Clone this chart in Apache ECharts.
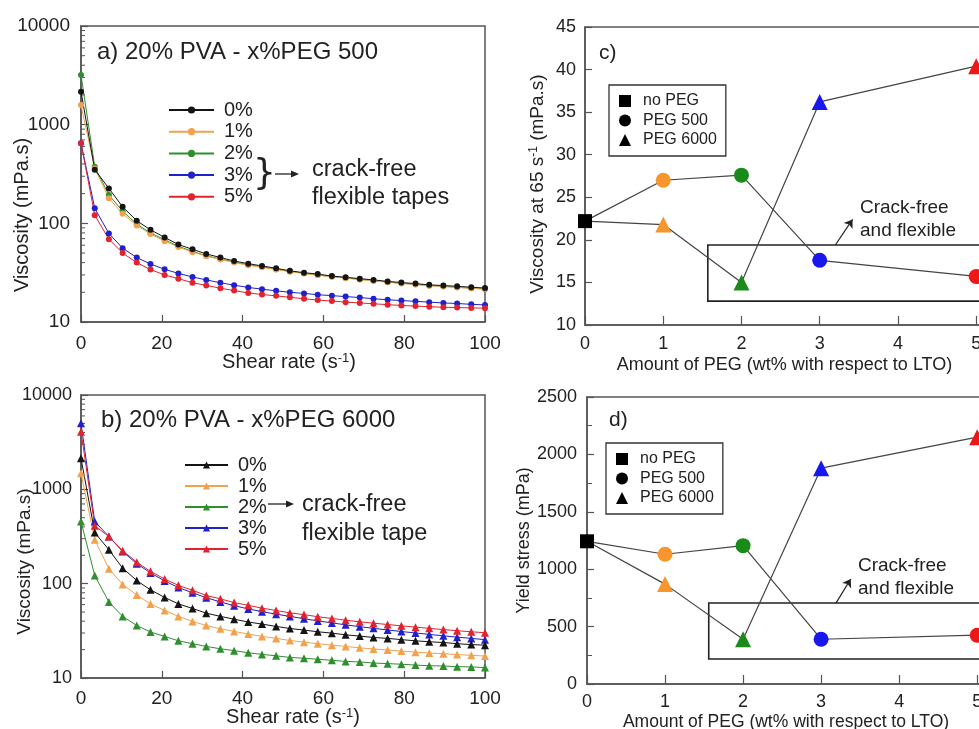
<!DOCTYPE html>
<html>
<head>
<meta charset="utf-8">
<script src="https://cdn.jsdelivr.net/npm/echarts@6/dist/echarts.min.js"></script>
<style>
  html, body { margin: 0; padding: 0; background: #fff; }
  #chart { width: 979px; height: 729px; }
</style>
</head>
<body>
<div id="chart"></div>
<script>
// ---- Flow curves: shear rate (1/s) and viscosity (mPa.s) ----
const shearRate = [0, 3.4, 6.9, 10.3, 13.8, 17.2, 20.7, 24.1, 27.6, 31, 34.5, 37.9, 41.4, 44.8, 48.3,
  51.7, 55.2, 58.6, 62.1, 65.5, 69, 72.4, 75.9, 79.3, 82.8, 86.2, 89.7, 93.1, 96.6, 100];
const pegLabels = ['0%', '1%', '2%', '3%', '5%'];

// a) 20% PVA with PEG 500
const peg500_0 = [2160, 350, 226, 147, 106, 86, 72, 61, 54.5, 49, 45, 41.5, 39, 37, 35, 33, 31.6, 30.6, 29.2, 28.4, 27.5, 26.7, 25.8, 25.1, 24.5, 23.8, 23.4, 23, 22.5, 22.1];
const peg500_1 = [1580, 360, 180, 125, 95, 78, 66, 57.5, 51, 46.5, 43, 40, 37.6, 35.8, 34, 32.4, 31, 29.8, 28.7, 27.8, 26.9, 26.1, 25.3, 24.6, 24, 23.3, 22.9, 22.4, 22, 21.6];
const peg500_2 = [3190, 375, 194, 133, 98, 80, 68, 58.5, 52, 47, 43.5, 40.5, 38, 36.2, 34.3, 32.6, 31.2, 30, 28.9, 28, 27.1, 26.3, 25.4, 24.7, 24.1, 23.4, 23, 22.5, 22, 21.6];
const peg500_3 = [647, 142, 79, 56, 45, 38.7, 34.2, 31.1, 28.6, 26.7, 25, 23.6, 22.4, 21.5, 20.7, 20, 19.5, 18.9, 18.5, 18.1, 17.7, 17.2, 16.8, 16.5, 16.2, 15.9, 15.6, 15.4, 15.1, 14.9];
const peg500_5 = [650, 121, 69, 50, 40, 34, 30, 27.5, 25, 23.5, 22, 20.8, 19.7, 19, 18.4, 17.8, 17.2, 16.7, 16.3, 15.9, 15.6, 15.3, 15, 14.7, 14.5, 14.3, 14.1, 14, 13.9, 13.8];

// b) 20% PVA with PEG 6000
const peg6000_0 = [2130, 348, 229, 146, 108, 86, 71.5, 61, 54.6, 48.7, 45, 42, 39.2, 37.3, 35.2, 33.5, 32.2, 30.9, 29.9, 28.7, 27.8, 26.9, 26.3, 25.5, 24.8, 24.2, 23.8, 23.1, 22.6, 22.3];
const peg6000_1 = [1480, 292, 144, 98, 76, 61, 52, 45, 39.8, 36, 33.2, 31.2, 29.2, 27.6, 26.3, 25, 24, 23.1, 22.3, 21.6, 20.9, 20.3, 19.8, 19.3, 18.8, 18.4, 18.1, 17.7, 17.4, 17.1];
const peg6000_2 = [456, 122, 64, 45, 36, 30.7, 27.6, 24.8, 23.1, 21.6, 20.4, 19.5, 18.5, 17.8, 17.2, 16.5, 16.2, 15.8, 15.4, 15, 14.8, 14.4, 14.2, 14, 13.7, 13.5, 13.4, 13.2, 13.1, 12.9];
const peg6000_3 = [5010, 456, 316, 219, 163, 130, 107, 91, 80, 71, 64, 58.5, 54, 50.5, 47.5, 45, 42.5, 40.3, 38.4, 36.6, 35, 33.6, 32.3, 31.1, 30, 29, 28, 27.1, 26.3, 25.5];
const peg6000_5 = [4090, 410, 316, 224, 169, 135, 112, 96, 85, 75, 69, 63, 59, 55, 52, 49, 47, 44.6, 42.8, 41, 39.4, 38.1, 36.9, 35.7, 34.6, 33.6, 32.6, 31.7, 30.9, 30.2];

// ---- Summary vs. PEG amount (wt% with respect to LTO) ----
const pegAmount = [1, 2, 3, 5];
const viscNoPeg = 22.2;
const visc500 = [27, 27.6, 17.6, 15.7];
const visc6000 = [21.8, 15, 36.2, 40.4];
const yieldNoPeg = 1243;
const yield500 = [1130, 1205, 390, 425];
const yield6000 = [870, 390, 1880, 2150];

const logTicks = [10, 100, 1000, 10000];
const logMinorTicks = [20, 30, 40, 50, 60, 70, 80, 90, 200, 300, 400, 500, 600, 700, 800, 900,
  2000, 3000, 4000, 5000, 6000, 7000, 8000, 9000];

const curveColors = ['#141414', '#f2a24e', '#2f8f2f', '#2020cc', '#e2222e'];
const pointColors = ['#f7962e', '#1a8a1a', '#1717ee', '#ee1717'];
const FONT = 'Liberation Sans, Arial, sans-serif';
const INK = '#222';
const FRAME = '#555';

const flow500 = [peg500_0, peg500_1, peg500_2, peg500_3, peg500_5];
const flow6000 = [peg6000_0, peg6000_1, peg6000_2, peg6000_3, peg6000_5];

function flowSeries(prefix, sets, gi, symbol, size) {
  // draw black last so it sits on top of the green/orange curves
  const order = [2, 1, 3, 4, 0];
  return order.map(i => ({
    type: 'line',
    name: prefix + pegLabels[i],
    xAxisIndex: gi, yAxisIndex: gi,
    data: shearRate.map((x, j) => [x, sets[i][j]]),
    symbol: symbol, symbolSize: size, showAllSymbol: true,
    lineStyle: { width: 1, color: curveColors[i] },
    itemStyle: { color: curveColors[i] },
    emphasis: { disabled: true },
    animation: false
  }));
}

function minorTicks(gi) {
  return {
    type: 'custom', xAxisIndex: gi, yAxisIndex: gi, silent: true, animation: false,
    data: logMinorTicks.map(v => [0, v]),
    renderItem: (params, api) => {
      const p = api.coord([api.value(0), api.value(1)]);
      return { type: 'line', shape: { x1: p[0], y1: p[1], x2: p[0] + 4, y2: p[1] },
               style: { stroke: FRAME, lineWidth: 1 } };
    }
  };
}

function summarySeries(prefix, gi, noPeg, v500, v6000, box, arrow) {
  const line = { width: 1.2, color: '#444' };
  const pts = (vals) => [{ value: [0, noPeg], symbol: 'none' }].concat(
    vals.map((v, i) => ({ value: [pegAmount[i], v], itemStyle: { color: pointColors[i] } })));
  return [
    {
      type: 'line', name: prefix + 'PEG 500', xAxisIndex: gi, yAxisIndex: gi,
      data: pts(v500), symbol: 'circle', symbolSize: 15, lineStyle: line,
      itemStyle: { color: '#000' }, emphasis: { disabled: true }, animation: false, z: 3,
      markArea: {
        silent: true,
        itemStyle: { color: 'rgba(0,0,0,0)', borderColor: '#222', borderWidth: 1.6 },
        label: { show: false },
        data: [[{ coord: [box[0], box[1]] }, { coord: [box[2], box[3]] }]]
      },
      markLine: {
        silent: true, symbol: ['none', 'arrow'], symbolSize: 8,
        lineStyle: { color: '#222', width: 1.2, type: 'solid' },
        label: { show: false },
        data: [[{ coord: [arrow[0], arrow[1]] }, { coord: [arrow[2], arrow[3]] }]]
      }
    },
    {
      type: 'line', name: prefix + 'PEG 6000', xAxisIndex: gi, yAxisIndex: gi,
      data: pts(v6000), symbol: 'triangle', symbolSize: 16, lineStyle: line,
      itemStyle: { color: '#000' }, emphasis: { disabled: true }, animation: false, z: 3
    },
    {
      type: 'line', name: prefix + 'no PEG', xAxisIndex: gi, yAxisIndex: gi,
      data: [[0, noPeg]], symbol: 'rect', symbolSize: 14,
      itemStyle: { color: '#000' }, emphasis: { disabled: true }, animation: false, z: 4
    }
  ];
}

const supRich = (size) => ({ sup: { fontSize: size, verticalAlign: 'top', lineHeight: size + 2 } });

function xAxisCfg(gi, opts) {
  return Object.assign({
    type: 'value', gridIndex: gi,
    axisLine: { show: true, lineStyle: { color: FRAME, width: 1.5 } },
    axisTick: { show: true, inside: true, length: 7, lineStyle: { color: FRAME, width: 1.2 } },
    splitLine: { show: false },
    axisLabel: { fontSize: 19, color: INK, fontFamily: FONT, margin: 12 },
    nameLocation: 'middle', nameMoveOverlap: false,
    nameTextStyle: { fontSize: 20, color: INK, fontFamily: FONT, rich: supRich(13) }
  }, opts);
}
function yAxisCfg(gi, opts) {
  return Object.assign({
    gridIndex: gi,
    axisLine: { show: true, lineStyle: { color: FRAME, width: 1.5 } },
    axisTick: { show: true, inside: true, length: 7, lineStyle: { color: FRAME, width: 1.2 } },
    splitLine: { show: false },
    axisLabel: { fontSize: 19, color: INK, fontFamily: FONT, margin: 10 },
    nameLocation: 'middle', nameMoveOverlap: false,
    nameTextStyle: { fontSize: 20, color: INK, fontFamily: FONT, rich: supRich(13) }
  }, opts);
}

const gridBase = { show: true, borderColor: FRAME, borderWidth: 1.5, backgroundColor: 'transparent',
  containLabel: false, outerBoundsMode: 'none' };

const flowLegend = (prefix, left, top, iw, gap) => ({
  orient: 'vertical', left: left, top: top, itemWidth: iw, itemHeight: 9, itemGap: gap,
  padding: 0, selectedMode: false,
  data: pegLabels.map(l => prefix + l),
  formatter: n => n.slice(prefix.length),
  textStyle: { fontSize: 20, lineHeight: 17, color: INK, fontFamily: FONT, padding: [0, 0, 0, 5] }
});
const boxLegend = (prefix, left, top) => ({
  orient: 'vertical', left: left, top: top, itemWidth: 12, itemHeight: 12, itemGap: 3.5,
  padding: [8, 9, 8, 10], borderColor: '#333', borderWidth: 1.3, selectedMode: false,
  data: [
    { name: prefix + 'no PEG', icon: 'rect', itemStyle: { color: '#000' } },
    { name: prefix + 'PEG 500', icon: 'circle', itemStyle: { color: '#000' } },
    { name: prefix + 'PEG 6000', icon: 'triangle', itemStyle: { color: '#000' } }
  ],
  formatter: n => n.slice(prefix.length),
  textStyle: { fontSize: 16, lineHeight: 16, color: INK, fontFamily: FONT, padding: [0, 0, 0, 7] }
});

const txt = (x, y, text, size, extra) => ({
  type: 'text', x: x, y: y, silent: true,
  style: Object.assign({ text: text, fontSize: size, fontFamily: FONT, fill: INK,
    verticalAlign: 'middle', align: 'left' }, extra || {})
});

const plainNumber = v => String(v);

const option = {
  animation: false,
  backgroundColor: '#fff',
  grid: [
    Object.assign({ left: 81, top: 26, width: 404, height: 296 }, gridBase),
    Object.assign({ left: 81, top: 395, width: 404, height: 283 }, gridBase),
    Object.assign({ left: 585, top: 27, width: 399, height: 298 }, gridBase),
    Object.assign({ left: 587, top: 397, width: 398, height: 287 }, gridBase)
  ],
  xAxis: [
    xAxisCfg(0, { min: 0, max: 100, interval: 20, name: 'Shear rate (s{sup|-1})', nameGap: 30,
      nameTextStyle: { fontSize: 20, color: INK, fontFamily: FONT, rich: supRich(13), padding: [0, 0, 0, 12] } }),
    xAxisCfg(1, { min: 0, max: 100, interval: 20, name: 'Shear rate (s{sup|-1})', nameGap: 29,
      axisLabel: { fontSize: 19, color: INK, fontFamily: FONT, margin: 11 },
      nameTextStyle: { fontSize: 20, color: INK, fontFamily: FONT, rich: supRich(13), padding: [0, 0, 0, 20] } }),
    xAxisCfg(2, { min: 0, max: 5.1, interval: 1, name: 'Amount of PEG (wt% with respect to LTO)', nameGap: 31,
      axisTick: { show: true, inside: true, length: 9, lineStyle: { color: FRAME, width: 1.2 } },
      axisLabel: { fontSize: 18, color: INK, fontFamily: FONT, margin: 10,
        formatter: v => (Number.isInteger(v) ? String(v) : '') },
      nameTextStyle: { fontSize: 18, color: INK, fontFamily: FONT } }),
    xAxisCfg(3, { min: 0, max: 5.1, interval: 1, name: 'Amount of PEG (wt% with respect to LTO)', nameGap: 29,
      axisTick: { show: true, inside: true, length: 9, lineStyle: { color: FRAME, width: 1.2 } },
      axisLabel: { fontSize: 18, color: INK, fontFamily: FONT, margin: 9,
        formatter: v => (Number.isInteger(v) ? String(v) : '') },
      nameTextStyle: { fontSize: 17.5, color: INK, fontFamily: FONT } })
  ],
  yAxis: [
    yAxisCfg(0, { type: 'log', logBase: 10, min: 10, max: 10000, splitNumber: 3,
      name: 'Viscosity (mPa.s)', nameGap: 49,
      axisLabel: { fontSize: 19, color: INK, fontFamily: FONT, margin: 11,
        formatter: v => (logTicks.indexOf(Math.round(v)) >= 0 ? String(Math.round(v)) : '') },
      nameTextStyle: { fontSize: 20, color: INK, fontFamily: FONT, padding: [0, 82, 0, 0] } }),
    yAxisCfg(1, { type: 'log', logBase: 10, min: 10, max: 10000, splitNumber: 3,
      name: 'Viscosity (mPa.s)', nameGap: 47,
      axisLabel: { fontSize: 18, color: INK, fontFamily: FONT, margin: 9,
        formatter: v => (logTicks.indexOf(Math.round(v)) >= 0 ? String(Math.round(v)) : '') },
      nameTextStyle: { fontSize: 19, color: INK, fontFamily: FONT, padding: [0, 50, 0, 0] } }),
    yAxisCfg(2, { type: 'value', min: 10, max: 45, interval: 5,
      name: 'Viscosity at 65 s{sup|-1} (mPa.s)', nameGap: 38,
      axisLabel: { fontSize: 18, color: INK, fontFamily: FONT, margin: 9, formatter: plainNumber },
      nameTextStyle: { fontSize: 19, color: INK, fontFamily: FONT, rich: supRich(12), padding: [0, 16, 0, 0] } }),
    yAxisCfg(3, { type: 'value', min: 0, max: 2500, interval: 500,
      name: 'Yield stress (mPa)', nameGap: 54,
      minorTick: { show: true, splitNumber: 2, length: 5, lineStyle: { color: FRAME, width: 1 } },
      axisLabel: { fontSize: 18, color: INK, fontFamily: FONT, margin: 10, formatter: plainNumber },
      nameTextStyle: { fontSize: 18, color: INK, fontFamily: FONT } })
  ],
  legend: [
    flowLegend('a', 168, 100, 45, 1.7),
    flowLegend('b', 184, 455, 43, 1),
    boxLegend('c', 609, 85),
    boxLegend('d', 606, 443)
  ],
  series: [].concat(
    flowSeries('a', flow500, 0, 'circle', 6),
    flowSeries('b', flow6000, 1, 'triangle', 8),
    [minorTicks(0), minorTicks(1)],
    summarySeries('c', 2, viscNoPeg, visc500, visc6000, [1.57, 19.4, 5.1, 12.8], [3.2, 19.4, 3.42, 22.4]),
    summarySeries('d', 3, yieldNoPeg, yield500, yield6000, [1.56, 705, 5.1, 218], [3.19, 705, 3.38, 915])
  ),
  graphic: [
    txt(97, 52, 'a) 20% PVA - x%PEG 500', 24),
    txt(101, 420, 'b) 20% PVA - x%PEG 6000', 24),
    txt(599, 53, 'c)', 21),
    txt(609, 420, 'd)', 21),
    // panel a note
    txt(253, 175, '}', 36, { fontFamily: 'DejaVu Sans, sans-serif' }),
    { type: 'line', silent: true, shape: { x1: 275, y1: 174, x2: 293, y2: 174 }, style: { stroke: INK, lineWidth: 1.3 } },
    { type: 'polygon', silent: true, shape: { points: [[299, 174], [291, 170.5], [291, 177.5]] }, style: { fill: INK } },
    txt(312, 184, 'crack-free\nflexible tapes', 23.5, { lineHeight: 28 }),
    // panel b note
    { type: 'line', silent: true, shape: { x1: 268, y1: 504, x2: 288, y2: 504 }, style: { stroke: INK, lineWidth: 1.3 } },
    { type: 'polygon', silent: true, shape: { points: [[294, 504], [286, 500.5], [286, 507.5]] }, style: { fill: INK } },
    txt(302, 519, 'crack-free\nflexible tape', 23.5, { lineHeight: 29 }),
    // panels c and d notes
    txt(860, 219, 'Crack-free\nand flexible', 19, { lineHeight: 23 }),
    txt(858, 577, 'Crack-free\nand flexible', 19, { lineHeight: 23 })
  ]
};

const chart = echarts.init(document.getElementById('chart'), null, { renderer: 'canvas' });
chart.setOption(option);
</script>
</body>
</html>
